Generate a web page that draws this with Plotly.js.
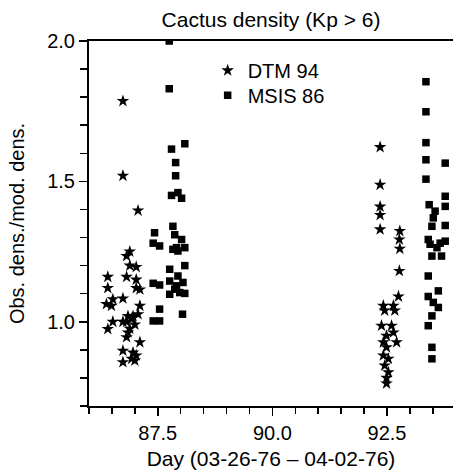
<!DOCTYPE html>
<html>
<head>
<meta charset="utf-8">
<script src="https://cdn.plot.ly/plotly-3.0.1.min.js"></script>
<style>html,body{margin:0;padding:0;background:#fff;}#chart{width:453px;height:473px;}</style>
</head>
<body>
<div id="chart"></div>
<script>
// DTM 94 (stars)
const dtmX = [86.74,86.74,87.07,86.89,86.82,86.89,87.03,86.41,86.41,86.82,87.03,87.03,87.11,86.74,86.52,86.38,86.49,87.11,87.07,86.85,86.93,86.52,86.74,86.41,87.00,86.89,86.85,86.82,87.11,86.74,86.96,87.03,86.93,87.00,86.74,86.96,86.82,
              92.35,92.35,92.35,92.35,92.35,92.78,92.77,92.78,92.77,92.75,92.42,92.64,92.45,92.67,92.38,92.60,92.64,92.49,92.42,92.71,92.49,92.42,92.53,92.45,92.53,92.49,92.49];
const dtmY = [1.786,1.52,1.396,1.25,1.234,1.20,1.195,1.16,1.12,1.16,1.15,1.12,1.115,1.083,1.08,1.063,1.057,1.057,1.027,1.02,1.01,1.0,1.0,0.974,0.99,0.975,0.962,0.945,0.927,0.897,0.89,0.88,0.868,0.862,0.856,1.02,1.0,
              1.622,1.488,1.41,1.38,1.329,1.323,1.293,1.26,1.181,1.09,1.057,1.057,1.04,1.04,0.986,0.986,0.962,0.95,0.927,0.927,0.909,0.88,0.868,0.844,0.82,0.80,0.78];
// MSIS 86 (squares)
const msisX = [87.75,87.75,87.80,88.09,87.89,87.89,87.80,87.94,88.02,87.43,87.40,87.54,87.83,87.87,88.02,87.83,87.94,88.09,87.76,88.09,87.94,87.40,87.54,87.76,87.91,88.05,87.98,87.76,87.87,88.09,87.54,87.40,87.54,88.04,87.91,
               93.35,93.35,93.35,93.35,93.77,93.35,93.42,93.77,93.77,93.55,93.51,93.77,93.48,93.40,93.66,93.77,93.44,93.59,93.48,93.69,93.40,93.62,93.40,93.51,93.62,93.48,93.40,93.48,93.48];
const msisY = [2.0,1.83,1.615,1.634,1.567,1.52,1.45,1.46,1.44,1.317,1.28,1.27,1.34,1.31,1.293,1.258,1.252,1.264,1.187,1.2,1.163,1.137,1.131,1.145,1.128,1.14,1.104,1.098,1.116,1.101,1.045,1.003,1.003,1.027,1.264,
               1.855,1.748,1.638,1.577,1.565,1.508,1.417,1.447,1.411,1.394,1.37,1.343,1.34,1.293,1.28,1.287,1.276,1.264,1.234,1.234,1.163,1.11,1.09,1.069,1.051,1.021,0.986,0.909,0.868];
const seriesNames = ["DTM 94","MSIS 86"];
const xTickVals = [87.5, 90.0, 92.5];
const xTickText = ["87.5","90.0","92.5"];
const yTickVals = [1.0, 1.5, 2.0];
const yTickText = ["1.0","1.5","2.0"];

const FONT = "Liberation Sans, Arial, Helvetica, sans-serif";
const traces = [
  {x: dtmX, y: dtmY, name: seriesNames[0], type: "scatter", mode: "markers", legend: "legend",
   marker: {symbol: "star", size: 9.5, color: "#000", line: {width: 0}}},
  {x: msisX, y: msisY, name: seriesNames[1], type: "scatter", mode: "markers", legend: "legend2",
   marker: {symbol: "square", size: 7.5, color: "#000", line: {width: 0}}}
];
const legendFont = {family: FONT, size: 20, color: "#000"};
const layout = {
  width: 453, height: 473,
  margin: {l: 89, r: 0, t: 41, b: 67, pad: 0},
  paper_bgcolor: "#fff", plot_bgcolor: "#fff",
  font: {family: FONT, size: 20, color: "#000"},
  title: {text: "Cactus density (Kp > 6)", font: {family: FONT, size: 21, color: "#000"},
          x: 0.5, xref: "paper", y: 1 - 20/473, yref: "container", yanchor: "middle"},
  showlegend: true,
  legend: {x: 0.326, y: 0.973, xanchor: "left", yanchor: "top", bgcolor: "rgba(0,0,0,0)", font: legendFont},
  legend2: {x: 0.326, y: 0.905, xanchor: "left", yanchor: "top", bgcolor: "rgba(0,0,0,0)", font: legendFont},
  xaxis: {range: [86.0, 93.94], showgrid: false, zeroline: false,
          showline: true, linecolor: "#000", linewidth: 2, mirror: true,
          ticks: "outside", ticklen: 8, tickwidth: 1.5, tickcolor: "#000",
          tickvals: xTickVals, ticktext: xTickText,
          minor: {dtick: 0.5, tick0: 86.0, ticks: "outside", ticklen: 6, tickwidth: 1.5, tickcolor: "#000", showgrid: false},
          title: {text: "Day (03-26-76 – 04-02-76)", font: {family: FONT, size: 21}, standoff: 8},
          tickfont: {family: FONT, size: 20}},
  yaxis: {range: [0.7, 2.0], showgrid: false, zeroline: false,
          showline: true, linecolor: "#000", linewidth: 2, mirror: false,
          ticks: "outside", ticklen: 8, tickwidth: 1.5, tickcolor: "#000",
          tickvals: yTickVals, ticktext: yTickText,
          minor: {dtick: 0.1, tick0: 0.7, ticks: "outside", ticklen: 7, tickwidth: 1.5, tickcolor: "#000", showgrid: false},
          title: {text: "Obs. dens./mod. dens.", font: {family: FONT, size: 20}, standoff: 17},
          tickfont: {family: FONT, size: 20}}
};
Plotly.newPlot("chart", traces, layout, {displayModeBar: false, staticPlot: true});
</script>
</body>
</html>
